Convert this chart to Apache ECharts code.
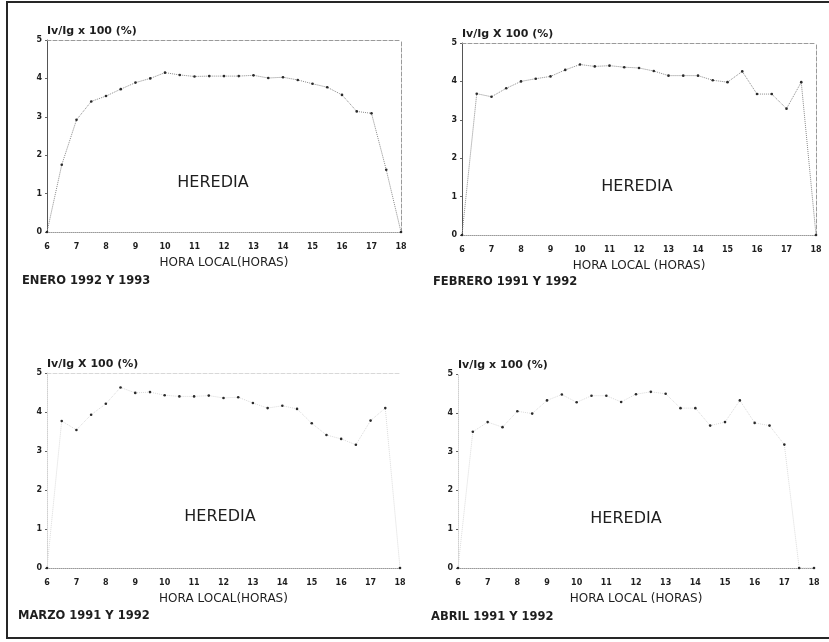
<!DOCTYPE html>
<html><head><meta charset="utf-8">
<script src="https://cdn.jsdelivr.net/npm/echarts@6/dist/echarts.min.js"></script>
<style>html,body{margin:0;padding:0;background:#fff}#c{width:829px;height:642px}</style>
</head><body><div id="c"></div>
<script>
// ---- data ----
const hoursFull = [6,6.5,7,7.5,8,8.5,9,9.5,10,10.5,11,11.5,12,12.5,13,13.5,14,14.5,15,15.5,16,16.5,17,17.5,18];
const xTicks = [6,7,8,9,10,11,12,13,14,15,16,17,18];
const yTicks = [0,1,2,3,4,5];
const eneroY   = [0,1.75,2.92,3.40,3.54,3.72,3.89,4.00,4.15,4.09,4.05,4.06,4.06,4.06,4.08,4.01,4.03,3.96,3.86,3.77,3.57,3.14,3.09,1.62,0];
const febreroY = [0,3.68,3.60,3.82,4.00,4.07,4.13,4.30,4.44,4.39,4.41,4.37,4.35,4.27,4.15,4.15,4.15,4.03,3.98,4.26,3.67,3.67,3.29,3.98,0];
const marzoY   = [0,3.77,3.54,3.93,4.21,4.63,4.49,4.51,4.43,4.40,4.40,4.42,4.36,4.38,4.23,4.10,4.16,4.08,3.71,3.41,3.31,3.16,3.78,4.10,0];
const abrilY   = [0,3.51,3.76,3.63,4.04,3.98,4.32,4.47,4.27,4.44,4.44,4.28,4.48,4.54,4.49,4.12,4.12,3.67,3.76,4.32,3.74,3.67,3.18,0,0];
const panelTitles = ['ENERO 1992 Y 1993','FEBRERO 1991 Y 1992','MARZO 1991 Y 1992','ABRIL 1991 Y 1992'];
const yNames = ['Iv/Ig x 100 (%)','Iv/Ig X 100 (%)','Iv/Ig X 100 (%)','Iv/Ig x 100 (%)'];
const xNames = ['HORA LOCAL(HORAS)','HORA LOCAL (HORAS)','HORA LOCAL(HORAS)','HORA LOCAL (HORAS)'];
const station = 'HEREDIA';

// ---- layout ----
const FONT = '"DejaVu Sans", "Liberation Sans", sans-serif';
const TXT = '#1e1e1e';
const grids = [
  {left:47, top:40, w:354, h:192},
  {left:462, top:43, w:354, h:192},
  {left:47, top:373, w:353, h:195},
  {left:458, top:374, w:356, h:194}
];
const seriesData = [eneroY, febreroY, marzoY, abrilY];
const lineColors = ['#8a8a8a','#8a8a8a','#dadada','#dadada'];
const frameOn = [true,true,true,false];
const frameColor = ['#9a9a9a','#9a9a9a','#d8d8d8','#fff'];
const titlePos = [{x:22,y:282},{x:433,y:283},{x:18,y:617},{x:431,y:618}];
const heredPos = [{x:213,y:183},{x:637,y:187},{x:220,y:517},{x:626,y:519}];

const option = {backgroundColor:'#fff', animation:false, grid:[], xAxis:[], yAxis:[], series:[], graphic:[]};

grids.forEach((g,i)=>{
  option.grid.push({left:g.left, top:g.top, width:g.w, height:g.h, containLabel:false});
  option.xAxis.push({
    type:'value', gridIndex:i, min:6, max:18, interval:1, position:'bottom',
    axisLine:{show:true, onZero:false, lineStyle:{color:'#9a9a9a', type:'dotted', width:1}},
    axisTick:{show:false}, splitLine:{show:false},
    axisLabel:{margin:11, fontSize:8, fontWeight:'bold', color:TXT, fontFamily:FONT,
      formatter:v=> xTicks.includes(v) ? String(v) : ''},
    name:xNames[i], nameLocation:'middle', nameGap:25,
    nameTextStyle:{fontSize:12, color:TXT, fontFamily:FONT, verticalAlign:'top'}
  });
  option.xAxis.push({
    type:'value', gridIndex:i, min:6, max:18, position:'top',
    axisLine:{show:frameOn[i], onZero:false, lineStyle:{color:frameColor[i], type:'dashed', width:1}},
    axisTick:{show:false}, axisLabel:{show:false}, splitLine:{show:false}
  });
  option.yAxis.push({
    type:'value', gridIndex:i, min:0, max:5, interval:1, position:'left',
    axisLine:{show:true, onZero:false, lineStyle:{color: i<2 ? '#555' : '#cfcfcf', width:1, type: i<2?'solid':'dotted'}},
    axisTick:{show:true, length:2, lineStyle:{color:'#666'}}, splitLine:{show:false},
    axisLabel:{margin:5, fontSize:8, fontWeight:'bold', color:TXT, fontFamily:FONT,
      formatter:v=> yTicks.includes(v) ? String(v) : ''},
    name:yNames[i], nameLocation:'end', nameGap:3,
    nameTextStyle:{fontSize:11, fontWeight:'bold', color:TXT, fontFamily:FONT, align:'left', verticalAlign:'bottom'}
  });
  option.yAxis.push({
    type:'value', gridIndex:i, min:0, max:5, position:'right',
    axisLine:{show:i<2, onZero:false, lineStyle:{color:frameColor[i], type:'dashed', width:1}},
    axisTick:{show:false}, axisLabel:{show:false}, splitLine:{show:false}
  });
  option.series.push({
    type:'line', xAxisIndex:2*i, yAxisIndex:2*i,
    data: hoursFull.map((h,k)=>[h, seriesData[i][k]]),
    symbol:'circle', symbolSize:2.6,
    itemStyle:{color:'#2a2a2a'},
    lineStyle:{color:lineColors[i], width:1, type:'dotted'},
    silent:true
  });
  option.graphic.push({type:'text', left:titlePos[i].x, top:titlePos[i].y-7,
    style:{text:panelTitles[i], fontSize:11.5, fontWeight:'bold', fill:TXT, fontFamily:FONT}});
  option.graphic.push({type:'text', x:heredPos[i].x, y:heredPos[i].y,
    style:{text:station, fontSize:16, fill:TXT, fontFamily:FONT, align:'center', verticalAlign:'middle'}});
});
option.graphic.push({type:'rect', shape:{x:7, y:2, width:830, height:636},
  style:{fill:'none', stroke:'#262626', lineWidth:2}, z:100});

const chart = echarts.init(document.getElementById('c'), null, {renderer:'canvas'});
chart.setOption(option);
</script></body></html>
